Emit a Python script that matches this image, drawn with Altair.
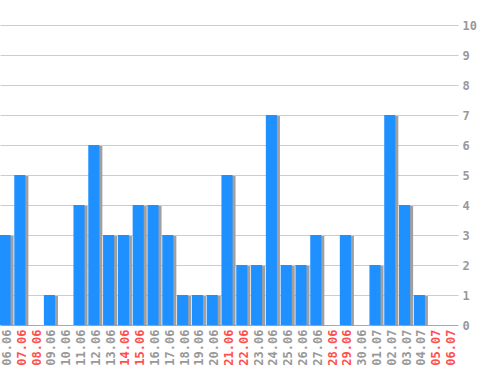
import altair as alt
import pandas as pd

days = ["06.06", "07.06", "08.06", "09.06", "10.06", "11.06", "12.06", "13.06",
        "14.06", "15.06", "16.06", "17.06", "18.06", "19.06", "20.06", "21.06",
        "22.06", "23.06", "24.06", "25.06", "26.06", "27.06", "28.06", "29.06",
        "30.06", "01.07", "02.07", "03.07", "04.07", "05.07", "06.07"]
counts = [3, 5, 0, 1, 0, 4, 6, 3, 3, 4, 4, 3, 1, 1, 1, 5,
          2, 2, 7, 2, 2, 3, 0, 3, 0, 2, 7, 4, 1, 0, 0]
weekends = ["07.06", "08.06", "14.06", "15.06", "21.06", "22.06",
            "28.06", "29.06", "05.07", "06.07"]
y_ticks = list(range(0, 11))

df = pd.DataFrame({"day": days, "count": counts})

FONT = "DejaVu Sans Mono"
GRAY = "#999999"
RED = "#ff5050"

we_list = ",".join("'" + d + "'" for d in weekends)

x_enc = alt.X(
    "day:N",
    sort=days,
    scale=alt.Scale(paddingInner=0.25, paddingOuter=0.1),
    axis=alt.Axis(
        title=None,
        labelAngle=270,
        labelFont=FONT,
        labelFontSize=12,
        labelFontWeight="bold",
        labelPadding=4,
        ticks=False,
        domain=False,
        grid=False,
        labelOverlap=False,
        labelColor=alt.condition(f"indexof([{we_list}], datum.value) >= 0",
                                 alt.value(RED), alt.value(GRAY)),
    ),
)
y_enc = alt.Y(
    "count:Q",
    scale=alt.Scale(domain=[0, 10], nice=False),
    axis=alt.Axis(
        title=None,
        orient="right",
        values=y_ticks,
        labelFont=FONT,
        labelFontSize=12,
        labelFontWeight="bold",
        labelColor=GRAY,
        labelPadding=4,
        labelOverlap=False,
        ticks=False,
        domain=False,
        grid=True,
        gridColor=alt.condition("datum.value === 0", alt.value("#aaaaaa"), alt.value("#cccccc")),
        gridWidth=1,
    ),
)

base = alt.Chart(df)

shadow = base.mark_bar(color="#a0a0a0", xOffset=1, yOffset=1, y2Offset=2).encode(
    x=x_enc, y=y_enc
)
bars = base.mark_bar(color="#1e90ff", xOffset=-2).encode(x=x_enc, y=y_enc)

chart = alt.layer(shadow, bars).properties(
    width=458,
    height=300,
    padding={"left": 0, "top": 25, "right": 40, "bottom": 45},
    autosize=alt.AutoSizeParams(type="none"),
    background="white",
).configure_view(stroke=None)

chart.save("out.html", embed_options={"renderer": "svg", "actions": False})
